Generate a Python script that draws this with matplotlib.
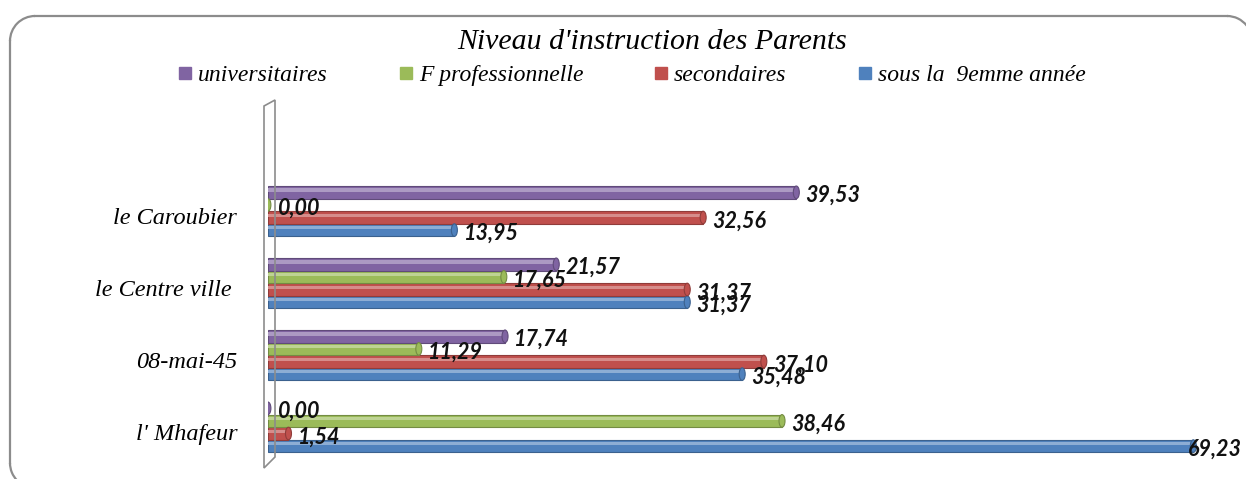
import numpy as np
import matplotlib
matplotlib.use('Agg')
import matplotlib.pyplot as plt
from matplotlib.patches import Ellipse, Polygon, Arc
from matplotlib.lines import Line2D
from matplotlib.transforms import IdentityTransform
import matplotlib.colors as mcolors

# data (bottom to top, as drawn)
categories = ["l' Mhafeur", "08-mai-45", "le Centre ville ", "le Caroubier"]
sous_9emme = [69.23, 35.48, 31.37, 13.95]
secondaires = [1.54, 37.10, 31.37, 32.56]
f_pro = [38.46, 11.29, 17.65, 0.00]
universitaires = [0.00, 17.74, 21.57, 39.53]

series = [
    ("sous la  9emme année", sous_9emme, "#4F81BD"),
    ("secondaires", secondaires, "#C0504D"),
    ("F professionnelle", f_pro, "#9BBB59"),
    ("universitaires", universitaires, "#8064A2"),
]

W, H = 1246, 479
fig = plt.figure(figsize=(W / 100, H / 100), dpi=100)

# rounded chart frame, drawn piece by piece in pixels (it runs off the right and bottom)
fc, flw, r = "#8c8c8c", 1.6, 25
px = IdentityTransform()
frame_parts = [
    Line2D([10 + r, 1227], [H - 16, H - 16], transform=px, color=fc, lw=flw),
    Line2D([10, 10], [H - 16 - r, H - 463], transform=px, color=fc, lw=flw),
    Arc((10 + r, H - 16 - r), 2 * r, 2 * r, theta1=90, theta2=180, transform=px, color=fc, lw=flw),
    Arc((1227, H - 16 - r), 2 * r, 2 * r, theta1=38, theta2=90, transform=px, color=fc, lw=flw),
    Arc((10 + r, H - 463), 2 * r, 2 * r, theta1=180, theta2=225, transform=px, color=fc, lw=flw),
]
for p in frame_parts:
    if isinstance(p, Line2D):
        fig.lines.append(p)
    else:
        fig.patches.append(p)

ax = fig.add_axes([0.215, 0.048, 0.751, 0.735])
ax.set_xlim(0, 70)
ax.set_ylim(-0.4, 4.49)

y = np.arange(len(categories))
bh = 0.175
offsets = [-1.5 * bh, -0.5 * bh, 0.5 * bh, 1.5 * bh]

for (name, vals, col), off in zip(series, offsets):
    dark = tuple(c * 0.75 for c in mcolors.to_rgb(col))
    light = tuple(min(1, c + (1 - c) * 0.35) for c in mcolors.to_rgb(col))
    ax.barh(y + off, vals, height=bh, color=col, edgecolor=dark, linewidth=0.8, zorder=2)
    ax.barh(y + off + bh * 0.18, vals, height=bh * 0.25, color=light, linewidth=0, zorder=3)
    for yi, v in zip(y, vals):
        ax.add_patch(Ellipse((v, yi + off), 0.45, bh, facecolor=col, edgecolor=dark,
                             linewidth=0.8, zorder=4))
        lx = v + 0.7 if v < 60 else v - 0.4
        ax.text(lx, yi + off - 0.045, f"{v:.2f}".replace('.', ','), fontsize=15.5,
                fontfamily="Lato", fontweight="bold", fontstyle="italic",
                va="center", ha="left", color="#111111", zorder=5, clip_on=False)

ax.set_yticks(y - 0.07)
ax.set_yticklabels(categories, fontsize=17.5, fontfamily="Liberation Serif", fontstyle="italic")
ax.tick_params(axis='y', length=0, pad=22)
ax.set_xticks([])
for s in ax.spines.values():
    s.set_visible(False)
ax.patch.set_visible(False)

# 3D side wall of the plot area
wall = Polygon([(264, H - 468), (264, H - 106), (275, H - 100), (275, H - 457)],
               closed=True, transform=px, fill=False, edgecolor=fc, linewidth=1.2)
fig.patches.append(wall)

fig.text(0.523, 0.912, "Niveau d'instruction des Parents", ha="center", va="center",
         fontsize=21.5, fontfamily="Liberation Serif", fontstyle="italic")

handles = [Line2D([], [], marker='s', linestyle='none', markersize=9, color=c)
           for _, _, c in series[::-1]]
labels = [n for n, _, _ in series[::-1]]
fig.legend(handles, labels, loc="center", bbox_to_anchor=(0.506, 0.843), ncol=4, frameon=False,
           prop={"family": "Liberation Serif", "style": "italic", "size": 17},
           handletextpad=0.15, columnspacing=2.9, handlelength=0.8)

fig.savefig("out.png", dpi=100)
